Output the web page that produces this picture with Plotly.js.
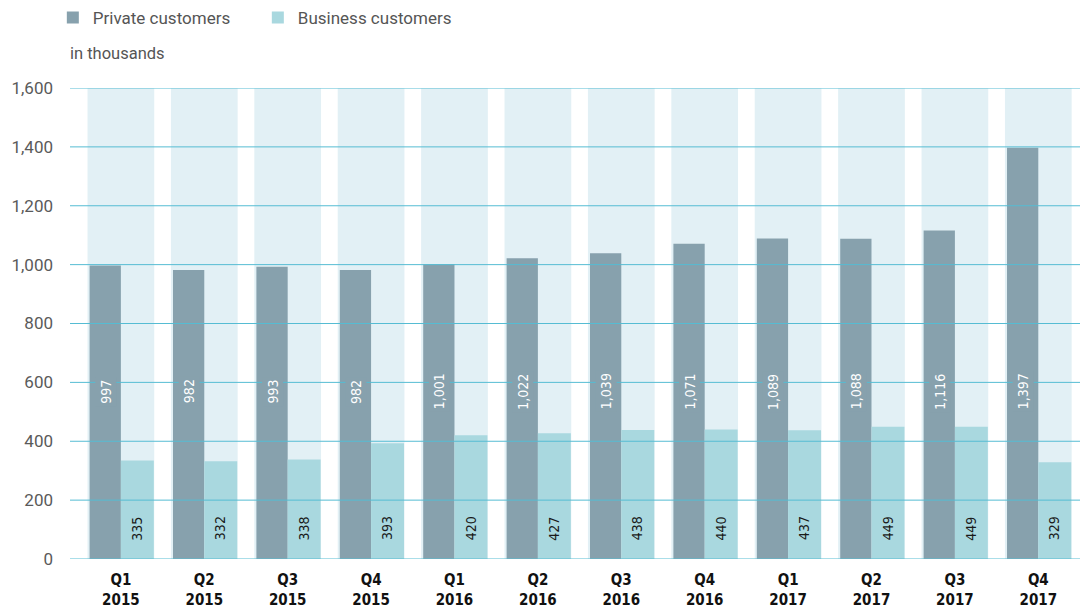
<!DOCTYPE html>
<html>
<head>
<meta charset="utf-8">
<script src="https://cdn.plot.ly/plotly-3.0.1.min.js"></script>
<style>html,body{margin:0;padding:0;background:#fff;}#chart{width:1080px;height:610px;}</style>
</head>
<body>
<div id="chart"></div>
<script>
// ---- data ----
var quarters = ['Q1','Q2','Q3','Q4','Q1','Q2','Q3','Q4','Q1','Q2','Q3','Q4'];
var years = ['2015','2015','2015','2015','2016','2016','2016','2016','2017','2017','2017','2017'];
var privateCustomers = [997, 982, 993, 982, 1001, 1022, 1039, 1071, 1089, 1088, 1116, 1397];
var businessCustomers = [335, 332, 338, 393, 420, 427, 438, 440, 437, 449, 449, 329];
var yTicks = [0, 200, 400, 600, 800, 1000, 1200, 1400, 1600];
var yMax = 1600;

// ---- styles ----
var cPrivate = '#87a1ad';
var cBusiness = '#a9d8df';
var cBg = '#e2f0f5';
var cGrid = '#55bcd3';
var narrow = '"Liberation Sans Narrow", "DejaVu Sans Condensed", "Arial Narrow", sans-serif';
var base = 'Roboto, "Liberation Sans", sans-serif';

var xIdx = quarters.map(function(_, i){ return i; });
var tickText = quarters.map(function(q, i){ return '<b>' + q + '<br>' + years[i] + '</b>'; });

var pW = 0.375, pOff = -0.375, bW = 0.395, bOff = 0.0;

var traces = [
  {type:'bar', x:xIdx, y:xIdx.map(function(){return yMax;}), width:0.8, offset:-0.4,
   marker:{color:cBg}, showlegend:false, hoverinfo:'skip'},
  {type:'bar', name:'Private customers', x:xIdx, y:privateCustomers, width:pW, offset:pOff,
   marker:{color:cPrivate}},
  {type:'bar', name:'Business customers', x:xIdx, y:businessCustomers, width:bW, offset:bOff,
   marker:{color:cBusiness}}
];

var fmt = function(v){ return v.toLocaleString('en-US'); };

var annotations = [];
privateCustomers.forEach(function(v, i){
  annotations.push({x: i + pOff + pW/2, y: 569, xref:'x', yref:'y', text: fmt(v), textangle:-90,
    showarrow:false, font:{family:narrow, size:14, color:'#ffffff'}, bgcolor:cPrivate, borderpad:2});
});
businessCustomers.forEach(function(v, i){
  annotations.push({x: i + bOff + bW/2, y: 104, xref:'x', yref:'y', text: fmt(v), textangle:-90,
    showarrow:false, font:{family:narrow, size:14, color:'#1a1a1a'}});
});
annotations.push({x:0, xref:'paper', xanchor:'left', xshift:-2, y:1.0742, yref:'paper', yanchor:'middle',
  text:'in thousands', showarrow:false, font:{family:base, size:16.5, color:'#555'}});

var shapes = yTicks.map(function(t){
  return {type:'line', xref:'paper', x0:0, x1:1, yref:'y', y0:t, y1:t, layer:'above',
          line:{color:cGrid, width:1}};
});

var layout = {
  width:1080, height:610,
  margin:{l:70, r:0, t:87, b:51, pad:0},
  paper_bgcolor:'#fff', plot_bgcolor:'#fff',
  barmode:'overlay',
  font:{family:base, color:'#555'},
  showlegend:true,
  legend:{orientation:'h', x:-0.017, xanchor:'left', y:1.1483, yanchor:'middle',
          font:{family:base, size:17, color:'#555'}, entrywidth:160, bgcolor:'rgba(0,0,0,0)'},
  xaxis:{range:[-0.61, 11.5], tickvals:xIdx, ticktext:tickText, showgrid:false, zeroline:false,
         showline:false, ticks:'', ticklabelstandoff:10, tickfont:{family:narrow, size:15, color:'#111'}, fixedrange:true},
  yaxis:{range:[0, yMax], tickvals:yTicks, ticktext:yTicks.map(fmt), showgrid:false, zeroline:false,
         showline:false, ticks:'', ticklabelstandoff:16, tickfont:{family:base, size:17, color:'#5a5a5a'}, fixedrange:true},
  shapes:shapes,
  annotations:annotations
};

Plotly.newPlot('chart', traces, layout, {displayModeBar:false, staticPlot:true});
</script>
</body>
</html>
